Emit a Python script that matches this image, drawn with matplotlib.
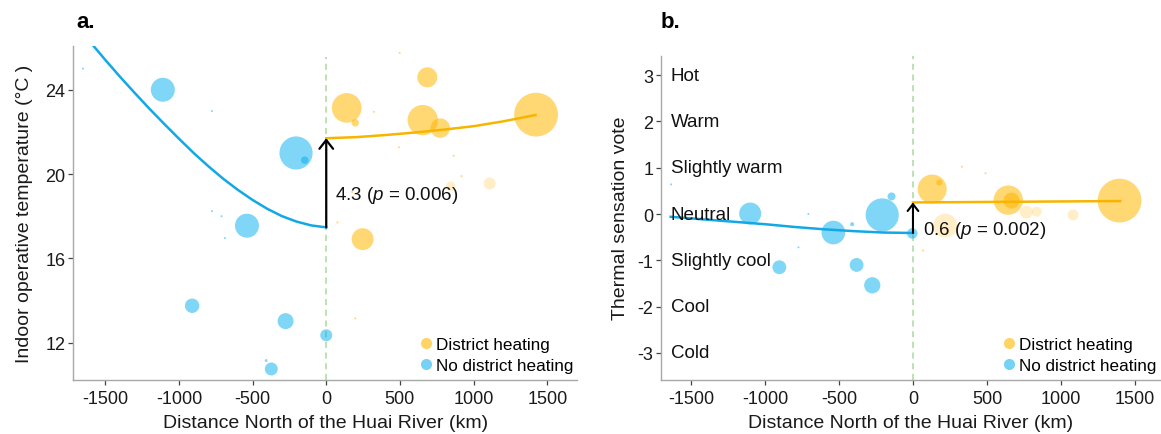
import numpy as np
import matplotlib
matplotlib.use("Agg")
import matplotlib.pyplot as plt
from matplotlib.lines import Line2D

plt.rcParams['font.family'] = ['Liberation Sans', 'DejaVu Sans']
plt.rcParams['mathtext.fontset'] = 'custom'
plt.rcParams['mathtext.rm'] = 'Liberation Sans'
plt.rcParams['mathtext.it'] = 'Liberation Sans:italic'

# ---- panel a: indoor operative temperature ----
# no district heating (south of the river)
a_ndh_x = [-1109, -205, -146, -538, -910, -276, 0, -373, -408, -1651, -776, -776, -711, -688]
a_ndh_y = [24.0, 21.0, 20.66, 17.55, 13.75, 13.02, 12.35, 10.75, 11.15, 25.0, 22.99, 18.24, 18.0, 16.96]
a_ndh_n = [144, 275, 14, 144, 52, 64, 36, 42, 2, 1, 1, 1, 1, 1]
# district heating (north of the river)
a_dh_x = [139, 197, 655, 686, 774, 1424, 247, 1109, 845, 498, 493, 865, 918, 76, 197, 323, 176]
a_dh_y = [23.14, 22.43, 22.56, 24.59, 22.18, 22.82, 16.91, 19.55, 19.42, 25.75, 21.27, 20.87, 19.9, 17.7, 13.15, 22.95, 19.15]
a_dh_n = [220, 14, 230, 100, 95, 480, 120, 36, 22, 1, 1, 1, 1, 1, 1, 1, 1]
a_dh_faint = [7, 8]
# fitted curves
a_fit_ndh_x = [-1600, -1500, -1400, -1300, -1200, -1100, -1000, -900, -800,
               -700, -600, -500, -400, -300, -200, -100, 0]
a_fit_ndh_y = [26.25, 25.42, 24.62, 23.85, 23.10, 22.38, 21.68, 21.00, 20.37,
               19.78, 19.25, 18.77, 18.35, 18.00, 17.74, 17.56, 17.47]
a_fit_dh_x = [0, 200, 400, 600, 800, 1000, 1200, 1420]
a_fit_dh_y = [21.70, 21.75, 21.85, 21.97, 22.11, 22.27, 22.50, 22.80]
a_note = "4.3 ($p$ = 0.006)"

# ---- panel b: thermal sensation vote ----
b_ndh_x = [-1100, -208, -145, -538, -903, -381, -275, -5, -1634, -411, -774, -707]
b_ndh_y = [0.01, -0.02, 0.38, -0.40, -1.15, -1.10, -1.54, -0.42, 0.64, -0.22, -0.72, 0.0]
b_ndh_n = [121, 275, 16, 140, 48, 48, 66, 28, 1, 4, 1, 1]
b_dh_x = [130, 178, 644, 666, 1396, 218, 766, 836, 1082, 490, 68, 331]
b_dh_y = [0.54, 0.68, 0.30, 0.29, 0.29, -0.25, 0.04, 0.05, -0.02, 0.88, -0.79, 1.02]
b_dh_n = [210, 9, 215, 64, 480, 144, 42, 25, 30, 1, 1, 1]
b_dh_faint = [5, 6, 7, 8]
b_fit_ndh_x = [-1637, -1400, -1200, -1000, -800, -600, -400, -200, 0]
b_fit_ndh_y = [-0.06, -0.12, -0.17, -0.22, -0.28, -0.33, -0.37, -0.40, -0.41]
b_fit_dh_x = [0, 700, 1400]
b_fit_dh_y = [0.25, 0.265, 0.28]
b_note = "0.6 ($p$ = 0.002)"
b_vote_ticks = [3, 2, 1, 0, -1, -2, -3]
b_vote_names = ["Hot", "Warm", "Slightly warm", "Neutral", "Slightly cool", "Cool", "Cold"]

x_ticks = [-1500, -1000, -500, 0, 500, 1000, 1500]

BLUE = '#00AEEF'
ORANGE = '#FFB600'
BLUE_LINE = '#12A8E6'
ORANGE_LINE = '#F7B500'
GREEN = '#A9DB9C'


def bubble(ax, x, y, n, color, alpha=0.5, faint=()):
    n = np.asarray(n, float)
    alphas = np.full(len(x), alpha)
    alphas[list(faint)] = 0.22
    cols = [matplotlib.colors.to_rgba(color, a) for a in alphas]
    ax.scatter(x, y, s=2.07 * n, c=cols, linewidths=0, zorder=2)


def style(ax):
    for s in ['top', 'right']:
        ax.spines[s].set_visible(False)
    for s in ['left', 'bottom']:
        ax.spines[s].set_color('#a8a8a8')
        ax.spines[s].set_linewidth(1.0)
    ax.tick_params(length=3.5, width=0.9, color='#444444', labelsize=13,
                   labelcolor='#1a1a1a')
    ax.tick_params(axis='x', pad=4)
    ax.tick_params(axis='y', pad=2)
    ax.set_xticks(x_ticks)
    ax.set_xticklabels([str(t) for t in x_ticks])
    ax.set_xlabel("Distance North of the Huai River (km)", fontsize=14, color='#1a1a1a')


def legend(ax):
    h = [Line2D([], [], marker='o', ls='', ms=8, mew=0, color=ORANGE, alpha=0.6,
                label='District heating'),
         Line2D([], [], marker='o', ls='', ms=8, mew=0, color=BLUE, alpha=0.55,
                label='No district heating')]
    ax.legend(handles=h, loc='lower right', bbox_to_anchor=(1.01, -0.005), frameon=False,
              fontsize=12.3, handlelength=0.6, handletextpad=0.3, labelspacing=0.33,
              borderaxespad=0.1)


fig = plt.figure(figsize=(11.61, 4.35), dpi=100)

# panel a
ax = fig.add_axes([0.0631, 0.1248, 0.4339, 0.7678])
style(ax)
ylo, yhi = 10.24, 26.09
ax.set_xlim(-1717, 1702)
ax.set_ylim(ylo, yhi)
ax.set_yticks([12, 16, 20, 24])
ax.axvline(0, ymax=(25.55 - ylo) / (yhi - ylo), color=GREEN, lw=1.1, dashes=(4, 3), zorder=1)
bubble(ax, a_ndh_x, a_ndh_y, a_ndh_n, BLUE)
bubble(ax, a_dh_x, a_dh_y, a_dh_n, ORANGE, alpha=0.55, faint=a_dh_faint)
ax.plot(a_fit_ndh_x, a_fit_ndh_y, color=BLUE_LINE, lw=1.8, zorder=3)
ax.plot(a_fit_dh_x, a_fit_dh_y, color=ORANGE_LINE, lw=1.8, zorder=3)
ax.annotate('', xy=(0, a_fit_dh_y[0]), xytext=(0, a_fit_ndh_y[-1]),
            arrowprops=dict(arrowstyle='->,head_length=0.45,head_width=0.35',
                            lw=1.6, color='black', mutation_scale=14,
                            shrinkA=0, shrinkB=0), zorder=4)
ax.text(58, 19.05, a_note, fontsize=13.5, va='center', ha='left', color='#111111')
ax.set_ylabel("Indoor operative temperature (°C )", fontsize=14, color='#1a1a1a')
ax.yaxis.set_label_coords(-0.08, 0.5)
ax.xaxis.set_label_coords(0.5, -0.102)
legend(ax)

# panel b
bx = fig.add_axes([0.5693, 0.1248, 0.4298, 0.7448])
style(bx)
bx.set_xlim(-1703, 1669)
bx.set_ylim(-3.58, 3.42)
bx.set_yticks(b_vote_ticks)
bx.set_yticklabels([str(t) for t in b_vote_ticks])
bx.axvline(0, color=GREEN, lw=1.1, dashes=(4, 3), zorder=1)
bubble(bx, b_ndh_x, b_ndh_y, b_ndh_n, BLUE)
bubble(bx, b_dh_x, b_dh_y, b_dh_n, ORANGE, alpha=0.55, faint=b_dh_faint)
bx.plot(b_fit_ndh_x, b_fit_ndh_y, color=BLUE_LINE, lw=1.8, zorder=3)
bx.plot(b_fit_dh_x, b_fit_dh_y, color=ORANGE_LINE, lw=1.8, zorder=3)
bx.annotate('', xy=(0, b_fit_dh_y[0]), xytext=(0, b_fit_ndh_y[-1]),
            arrowprops=dict(arrowstyle='->,head_length=0.45,head_width=0.35',
                            lw=1.5, color='black', mutation_scale=11,
                            shrinkA=0, shrinkB=0), zorder=4)
bx.text(70, -0.33, b_note, fontsize=13.5, va='center', ha='left', color='#111111')
for v, name in zip(b_vote_ticks, b_vote_names):
    bx.text(-1637, v, name, fontsize=13.5, va='center', ha='left', color='#111111', zorder=5)
bx.set_ylabel("Thermal sensation vote", fontsize=14, color='#1a1a1a')
bx.yaxis.set_label_coords(-0.064, 0.5)
bx.xaxis.set_label_coords(0.5, -0.105)
legend(bx)

fig.text(0.0655, 0.948, 'a.', fontsize=16, fontweight='bold', va='center')
fig.text(0.5693, 0.948, 'b.', fontsize=16, fontweight='bold', va='center')

fig.savefig('out.png', dpi=100)
